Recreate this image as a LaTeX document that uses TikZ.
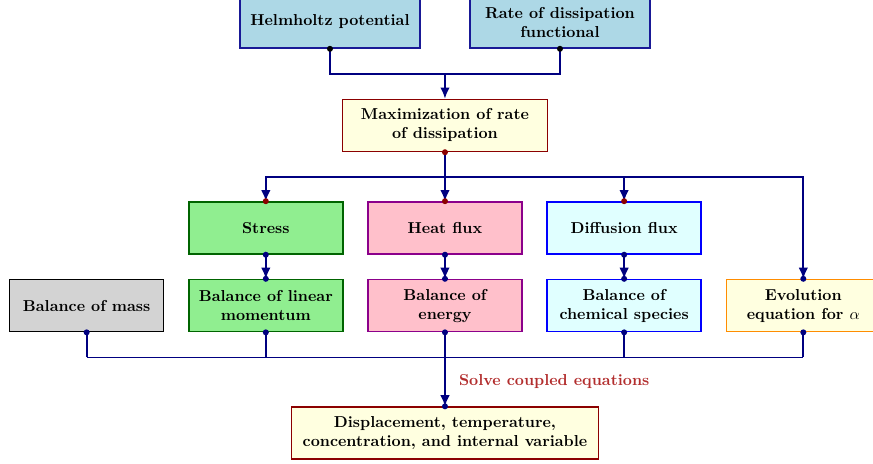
\documentclass[tikz,border=0pt]{standalone}
\usepackage{amsmath}
\usetikzlibrary{calc, positioning}
\usetikzlibrary{arrows.meta}

\definecolor{linecol}{RGB}{0,0,128}
\definecolor{potfill}{RGB}{173,216,230}
\definecolor{potdraw}{RGB}{25,25,150}
\definecolor{maxfill}{RGB}{255,255,224}
\definecolor{maxdraw}{RGB}{139,0,0}
\definecolor{stressfill}{RGB}{144,238,144}
\definecolor{stressdraw}{RGB}{0,100,0}
\definecolor{heatfill}{RGB}{255,192,203}
\definecolor{heatdraw}{RGB}{139,0,139}
\definecolor{difffill}{RGB}{224,255,255}
\definecolor{diffdraw}{RGB}{0,0,255}
\definecolor{evoldraw}{RGB}{255,140,0}
\definecolor{massfill}{RGB}{211,211,211}
\definecolor{solvecol}{RGB}{178,45,45}

\tikzset{
  box/.style={draw, line width=1pt, align=center, font=\bfseries, minimum width=97.2pt, minimum height=32.8pt},
  link/.style={draw=linecol, line width=1.1pt},
  arr/.style={link, -{Latex[length=7pt, width=6pt]}},
}

\newcommand{\blob}[2][linecol]{\fill[#1] (#2) circle (1.9pt);}

\begin{document}
\begin{tikzpicture}
            \useasboundingbox (-280.9pt,-148.4pt) rectangle (270.2pt,143.9pt);

            % derived quantities
            \node[box, fill=heatfill, draw=heatdraw] (heat) at (0,0) {Heat flux};
            \node[box, fill=stressfill, draw=stressdraw, left=14.9pt of heat] (stress) {Stress};
            \node[box, fill=difffill, draw=diffdraw, right=14.9pt of heat] (diff) {Diffusion flux};

            % balance laws
            \node[box, fill=heatfill, draw=heatdraw, below=15.2pt of heat] (energy) {Balance of\\ energy};
            \node[box, fill=stressfill, draw=stressdraw, below=15.2pt of stress] (linear) {Balance of linear\\ momentum};
            \node[box, fill=difffill, draw=diffdraw, below=15.2pt of diff] (chem) {Balance of\\ chemical species};
            \node[box, fill=massfill, draw=black, left=14.9pt of linear] (mass) {Balance of mass};
            \node[box, fill=maxfill, draw=evoldraw, right=14.9pt of chem] (evol) {Evolution\\ equation for $\alpha$};

            % potentials
            \node[box, fill=maxfill, draw=maxdraw, minimum width=129.4pt, above=30.9pt of heat] (max) {Maximization of rate\\ of dissipation};
            \node[box, fill=potfill, draw=potdraw, minimum width=113.6pt, above=31.5pt of max, xshift=-72.6pt] (helm) {Helmholtz potential};
            \node[box, fill=potfill, draw=potdraw, minimum width=113.6pt, above=31.5pt of max, xshift=72.6pt] (rate) {Rate of dissipation\\ functional};

            % result
            \node[box, fill=maxfill, draw=maxdraw, minimum width=193.8pt, below=46.7pt of energy] (res) {Displacement, temperature,\\ concentration, and internal variable};

            % top joint
            \coordinate (join) at ($(max.north)!0.5!(max.north |- helm.south)$);
            \draw[link] (helm.south) |- (join);
            \draw[link] (rate.south) |- (join);
            \draw[arr] (join) -- (max.north);
            \blob[black]{helm.south}
            \blob[black]{rate.south}

            % split to the fluxes
            \coordinate (split) at ($(max.south)!0.5!(heat.north)$);
            \draw[link] (max.south) -- (split);
            \draw[arr] (split) -| (stress.north);
            \draw[arr] (split) -- (heat.north);
            \draw[arr] (split) -| (diff.north);
            \draw[arr] (split) -| (evol.north);
            \blob[maxdraw]{max.south}
            \blob[maxdraw]{stress.north}
            \blob[maxdraw]{heat.north}
            \blob[maxdraw]{diff.north}
            \blob{evol.north}

            % fluxes into balances
            \draw[arr] (stress.south) -- (linear.north);
            \draw[arr] (heat.south) -- (energy.north);
            \draw[arr] (diff.south) -- (chem.north);
            \foreach \n in {stress.south, linear.north, heat.south, energy.north, diff.south, chem.north} {
                \blob{\n}
            }

            % bottom bus
            \coordinate (bus) at ($(energy.south)+(0,-15.8pt)$);
            \foreach \n in {mass, linear, energy, chem, evol} {
                \draw[link] (\n.south) -- (\n.south |- bus);
                \blob{\n.south}
            }
            \draw[link] (mass.south |- bus) -- (evol.south |- bus);
            \draw[arr] (bus) -- (res.north) node[midway, right=5pt, text=solvecol, font=\bfseries] {Solve coupled equations};
            \blob{res.north}

            \end{tikzpicture}
\end{document}
